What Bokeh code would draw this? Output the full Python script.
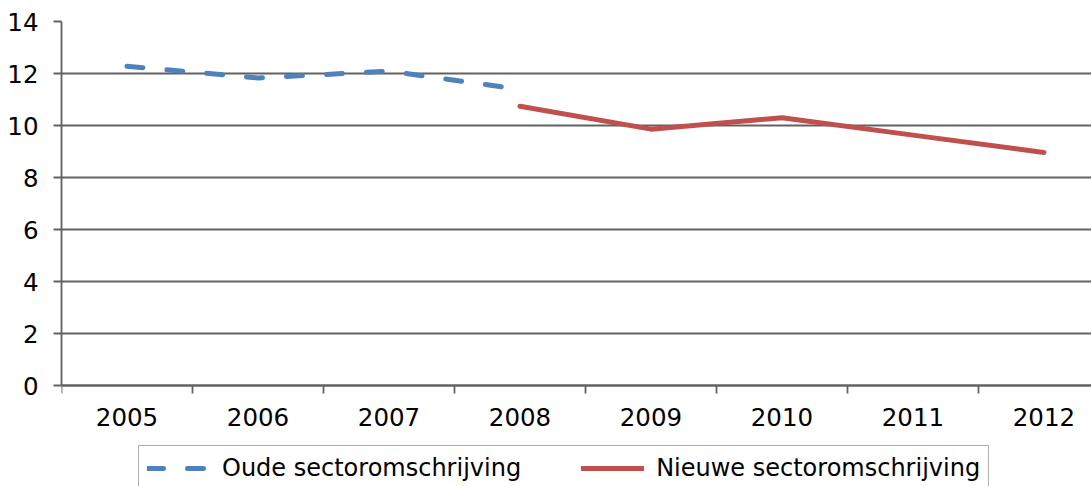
import math
from bokeh.plotting import figure
from bokeh.models import Range1d, FixedTicker, Legend, LegendItem
from bokeh.embed import file_html
from bokeh.resources import INLINE

nan = float("nan")

# Data
years = ["2005", "2006", "2007", "2008", "2009", "2010", "2011", "2012"]
oude = [12.28, 11.83, 12.09, 11.39, nan, nan, nan, nan]        # Oude sectoromschrijving
nieuwe = [nan, nan, nan, 10.74, 9.86, 10.30, 9.63, 8.96]      # Nieuwe sectoromschrijving
y_ticks = [0, 2, 4, 6, 8, 10, 12, 14]

FONT = "DejaVu Sans"
GRID = "#626262"
BLUE = "#4F81BD"
RED = "#C0504D"

xs = list(range(len(years)))

# frame spans 21..486 px; 26 px per unit so that 0 sits at 385 px
p = figure(width=1091, height=486, output_backend="svg", toolbar_location=None,
           x_range=Range1d(-0.5, 7.363), y_range=Range1d(14 - 465 / 26, 14),
           min_border_left=61, min_border_right=0, min_border_top=21,
           min_border_bottom=0)
p.outline_line_color = None
p.background_fill_color = "white"
p.border_fill_color = "white"

# X axis at y = 0: labels at category centres, tick marks at category boundaries
xa = p.xaxis[0]
xa.fixed_location = 0
xa.ticker = FixedTicker(ticks=xs, minor_ticks=[i - 0.5 for i in range(len(years) + 1)])
xa.major_label_overrides = {i: y for i, y in enumerate(years)}
xa.major_tick_out = 0
xa.major_tick_in = 0
xa.minor_tick_out = 8
xa.minor_tick_in = 0
xa.minor_tick_line_color = GRID
xa.minor_tick_line_width = 1.8
xa.axis_line_color = GRID
xa.axis_line_width = 1.8
xa.major_label_text_font = FONT
xa.major_label_text_font_size = "24.5px"
xa.major_label_text_color = "black"
xa.major_label_standoff = 14

ya = p.yaxis[0]
ya.ticker = FixedTicker(ticks=y_ticks)
ya.bounds = (0, 14)
ya.major_tick_out = 8
ya.major_tick_in = 0
ya.minor_tick_out = 0
ya.minor_tick_in = 0
ya.major_tick_line_color = GRID
ya.major_tick_line_width = 1.8
ya.axis_line_color = GRID
ya.axis_line_width = 1.8
ya.major_label_text_font = FONT
ya.major_label_text_font_size = "24.5px"
ya.major_label_text_color = "black"
ya.major_label_standoff = 15

p.xgrid.grid_line_color = None
p.ygrid.grid_line_color = GRID
p.ygrid.grid_line_width = 1.8

r1 = p.line(xs, oude, line_color=BLUE, line_width=5, line_dash="16 24",
            line_cap="round", line_join="round")
r2 = p.line(xs, nieuwe, line_color=RED, line_width=5,
            line_cap="round", line_join="round")

legend = Legend(items=[LegendItem(label="Oude sectoromschrijving", renderers=[r1]),
                       LegendItem(label="Nieuwe sectoromschrijving", renderers=[r2])],
                orientation="horizontal", location=(77, -5),
                label_text_font=FONT, label_text_font_size="24px",
                label_text_color="black",
                glyph_width=63, glyph_height=20, label_standoff=12, spacing=60,
                padding=8, margin=0,
                border_line_color=GRID, border_line_width=1.5,
                background_fill_color="white")
p.add_layout(legend)

open("out.html", "w").write(file_html(p, INLINE))
